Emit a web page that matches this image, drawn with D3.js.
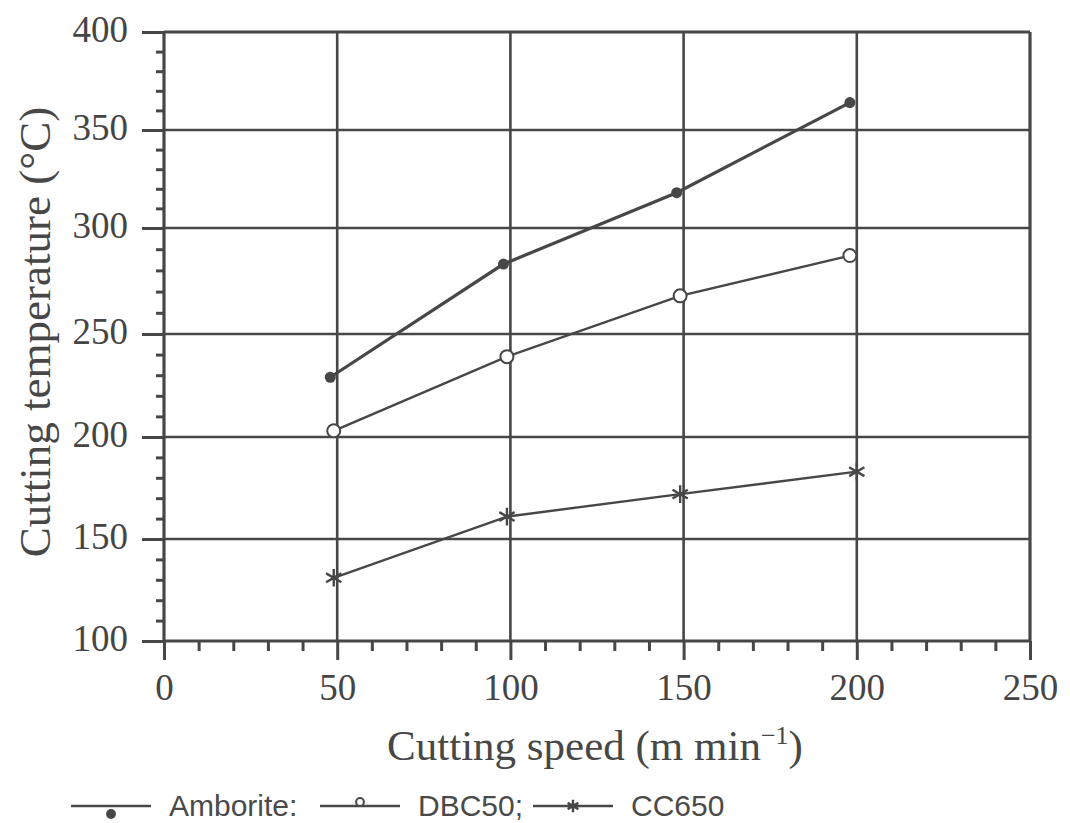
<!DOCTYPE html>
<html lang="en">
  <head>
    <meta charset="utf-8">
    <script src="https://d3js.org/d3.v7.min.js"></script>
    <title>Cutting temperature vs cutting speed</title>
    <style>
      body { margin: 0; background: #fff; }
      .tick text { font-family: "Liberation Serif", "Times New Roman", serif; fill: #454545; }
    </style>
  </head>
  <body>
  <script type="text/javascript">

    // data
    var seriesNames = ["Amborite", "DBC50", "CC650"];
    var ambSpeed = [48, 98, 148, 198];
    var ambTemp = [229, 283, 318, 364];
    var dbcSpeed = [49, 99, 149, 198];
    var dbcTemp = [203, 239, 268, 287];
    var ccSpeed = [49, 99, 149, 200];
    var ccTemp = [131, 161, 172, 183];

    var xTicks = [0, 50, 100, 150, 200, 250];
    var yTicks = [100, 150, 200, 250, 300, 350, 400];

    var width = 1070, height = 823;
    var ink = "#474747";

    var svg = d3.select("body").append("svg")
      .attr("width", width)
      .attr("height", height);

    var x = d3.scaleLinear().domain([0, 250]).range([164, 1030]);
    // the scanned grid is not quite evenly spaced, so follow it piece by piece
    var y = d3.scaleLinear().domain(yTicks).range([641, 539, 437, 334, 228, 130, 32]);

    // minor ticks
    svg.append("g")
      .attr("transform", "translate(0," + y(100) + ")")
      .call(d3.axisBottom(x).tickValues(d3.range(0, 251, 10).filter(function(v) { return v % 50 != 0; }))
        .tickSize(10).tickFormat(""))
      .call(function(g) { g.select(".domain").remove(); })
      .selectAll("line").attr("stroke", ink).attr("stroke-width", 3);

    svg.append("g")
      .attr("transform", "translate(" + x(0) + ",0)")
      .call(d3.axisLeft(y).tickValues(d3.range(100, 401, 10).filter(function(v) { return v % 50 != 0; }))
        .tickSize(8).tickFormat(""))
      .call(function(g) { g.select(".domain").remove(); })
      .selectAll("line").attr("stroke", ink).attr("stroke-width", 3);

    // major ticks + labels
    var xAxis = svg.append("g")
      .attr("transform", "translate(0," + y(100) + ")")
      .call(d3.axisBottom(x).tickValues(xTicks).tickSize(19).tickPadding(14))
      .call(function(g) { g.select(".domain").remove(); });
    xAxis.selectAll("line").attr("stroke", ink).attr("stroke-width", 3);
    xAxis.selectAll("text").style("font-size", "37px");

    var yAxis = svg.append("g")
      .attr("transform", "translate(" + x(0) + ",0)")
      .call(d3.axisLeft(y).tickValues(yTicks).tickSize(22).tickPadding(14))
      .call(function(g) { g.select(".domain").remove(); });
    yAxis.selectAll("line").attr("stroke", ink).attr("stroke-width", 3);
    yAxis.selectAll("text").style("font-size", "37px").attr("dy", "0.26em");

    // grid
    svg.append("g").selectAll("line")
      .data(yTicks)
      .enter().append("line")
      .attr("x1", x(0)).attr("x2", x(250))
      .attr("y1", function(d) { return y(d); })
      .attr("y2", function(d) { return y(d); })
      .attr("stroke", ink)
      .attr("stroke-width", function(d) { return (d == 100 || d == 400) ? 3.2 : 2.6; });

    svg.append("g").selectAll("line")
      .data(xTicks)
      .enter().append("line")
      .attr("y1", y(400)).attr("y2", y(100))
      .attr("x1", function(d) { return x(d); })
      .attr("x2", function(d) { return x(d); })
      .attr("stroke", ink)
      .attr("stroke-width", function(d) { return (d == 0 || d == 250) ? 3.2 : 2.6; });

    // axis titles
    svg.append("text")
      .attr("x", 595)
      .attr("y", 760)
      .attr("text-anchor", "middle")
      .style("font-family", "'Liberation Serif', serif")
      .style("font-size", "43px")
      .style("fill", ink)
      .text("Cutting speed (m min")
      .append("tspan")
        .attr("dy", -16)
        .style("font-size", "26px")
        .text("\u22121")
      .select(function() { return this.parentNode; })
      .append("tspan")
        .attr("dy", 16)
        .text(")");

    svg.append("text")
      .attr("transform", "translate(50,332) rotate(-90)")
      .attr("text-anchor", "middle")
      .style("font-family", "'Liberation Serif', serif")
      .style("font-size", "45px")
      .style("fill", ink)
      .text("Cutting temperature (\u00b0C)");

    // series
    var series = [
      {name: seriesNames[0], pts: d3.zip(ambSpeed, ambTemp), w: 3.2, mark: "dot"},
      {name: seriesNames[1], pts: d3.zip(dbcSpeed, dbcTemp), w: 2.4, mark: "ring"},
      {name: seriesNames[2], pts: d3.zip(ccSpeed, ccTemp), w: 2.4, mark: "star"}
    ];

    var line = d3.line()
      .x(function(d) { return x(d[0]); })
      .y(function(d) { return y(d[1]); });

    function drawMark(g, kind, scale) {
      scale = scale || 1;
      if (kind == "dot") {
        g.append("circle").attr("r", 5.5 * scale).attr("fill", ink);
      } else if (kind == "ring") {
        g.append("circle").attr("r", 6.5 * scale).attr("fill", "#fff")
          .attr("stroke", ink).attr("stroke-width", 2);
      } else {
        g.append("path").attr("d", d3.symbol(d3.symbolAsterisk, 220 * scale * scale)())
          .attr("fill", "none").attr("stroke", ink).attr("stroke-width", 2.4);
      }
    }

    series.forEach(function(s) {
      svg.append("path")
        .datum(s.pts)
        .attr("d", line)
        .attr("fill", "none")
        .attr("stroke", ink)
        .attr("stroke-width", s.w);

      svg.append("g").selectAll("g")
        .data(s.pts)
        .enter().append("g")
        .attr("transform", function(d) { return "translate(" + x(d[0]) + "," + y(d[1]) + ")"; })
        .each(function() { drawMark(d3.select(this), s.mark); });
    });

    // legend along the bottom
    var legendX = [71, 320, 533];
    var legendLabels = [seriesNames[0] + ":", seriesNames[1] + ";", seriesNames[2]];
    var legendMarkDy = [8, -4, 0];
    var legendScale = [0.9, 0.6, 0.7];

    series.forEach(function(s, i) {
      var g = svg.append("g").attr("transform", "translate(" + legendX[i] + ",806)");
      g.append("line").attr("x1", 0).attr("x2", 80)
        .attr("stroke", ink).attr("stroke-width", 2.4);
      drawMark(g.append("g").attr("transform", "translate(40," + legendMarkDy[i] + ")"), s.mark, legendScale[i]);
      g.append("text")
        .attr("x", 98)
        .attr("y", 10)
        .style("font-family", "'Liberation Sans', Arial, sans-serif")
        .style("font-size", "30px")
        .style("fill", "#4a4a4a")
        .text(legendLabels[i]);
    });

  </script>
  </body>
</html>
